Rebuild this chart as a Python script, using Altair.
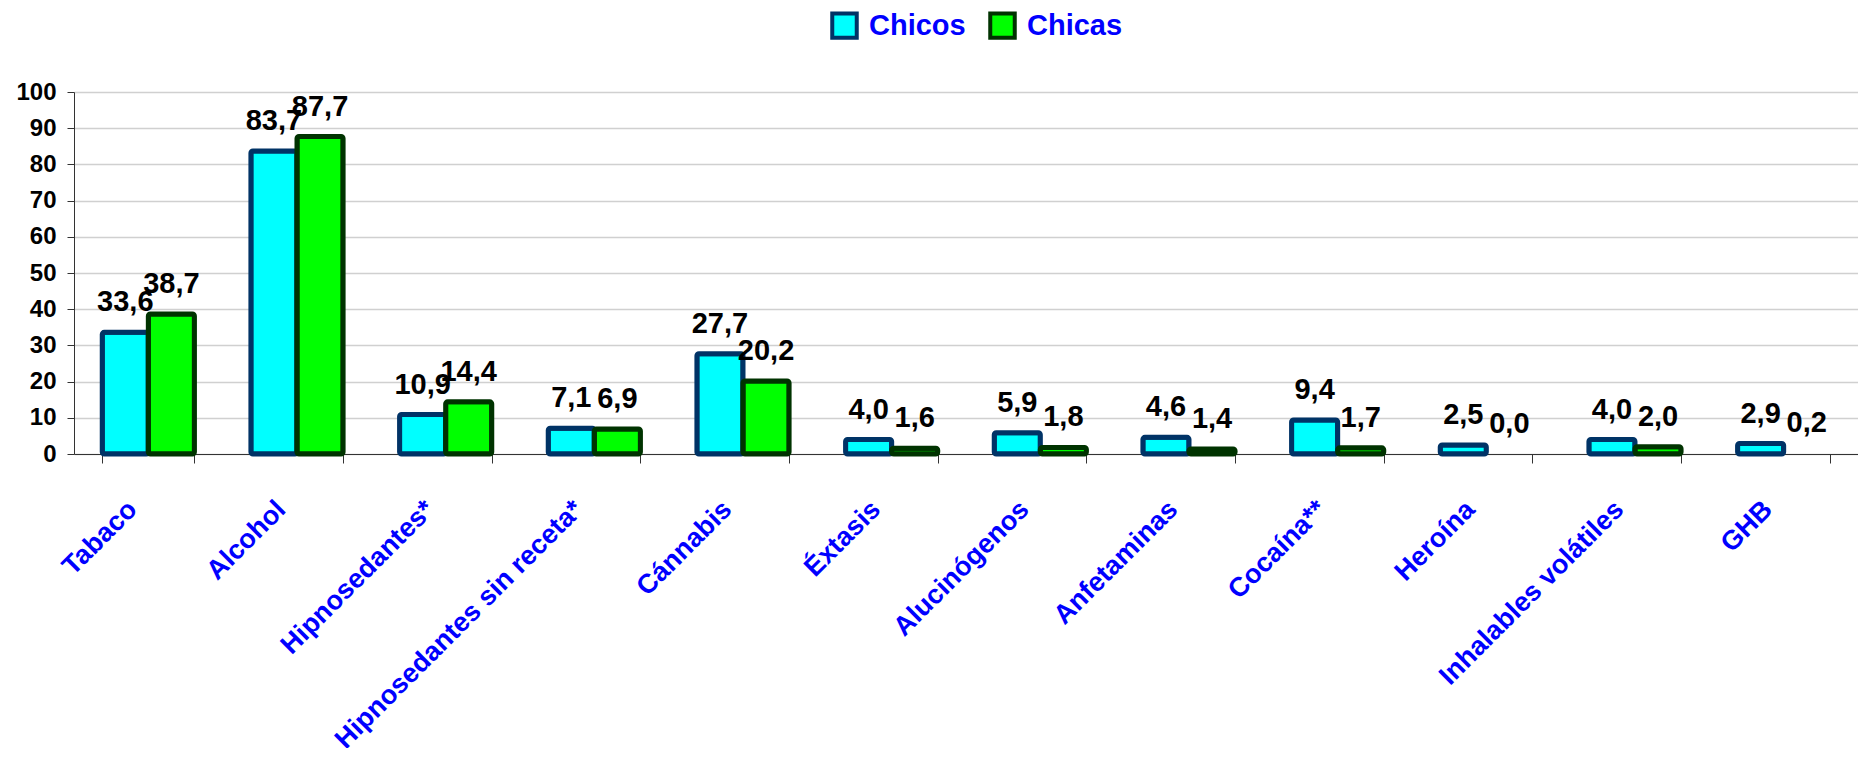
import altair as alt
import pandas as pd

categorias = ["Tabaco", "Alcohol", "Hipnosedantes*", "Hipnosedantes sin receta*",
              "Cánnabis", "Éxtasis", "Alucinógenos", "Anfetaminas", "Cocaína**",
              "Heroína", "Inhalables volátiles", "GHB"]
chicos = [33.6, 83.7, 10.9, 7.1, 27.7, 4.0, 5.9, 4.6, 9.4, 2.5, 4.0, 2.9]
chicas = [38.7, 87.7, 14.4, 6.9, 20.2, 1.6, 1.8, 1.4, 1.7, 0.0, 2.0, 0.2]
series = ["Chicos", "Chicas"]

rows = []
for i, c in enumerate(categorias):
    for s, vals in zip(series, [chicos, chicas]):
        v = vals[i]
        rows.append({"categoria": c, "sexo": s, "valor": v,
                     "etiqueta": f"{v:.1f}".replace(".", ",")})
df = pd.DataFrame(rows)

FONT = "Liberation Sans"

x = alt.X("categoria:N", sort=categorias, title=None,
          scale=alt.Scale(paddingInner=0.38, paddingOuter=0.19),
          axis=alt.Axis(labelAngle=-45, labelAlign="right", labelBaseline="middle",
                        labelFont=FONT, labelFontSize=27, labelFontWeight="bold",
                        labelColor="#0000FF", labelPadding=42, labelOffset=-16, tickBand="extent",
                        tickSize=9, tickColor="#333333", domainColor="#333333",
                        labelLimit=600, grid=False))
xoff = alt.XOffset("sexo:N", sort=series, scale=alt.Scale(domain=series, paddingInner=0, paddingOuter=0))
y = alt.Y("valor:Q", title=None,
          scale=alt.Scale(domain=[0, 100], nice=False),
          axis=alt.Axis(values=list(range(0, 101, 10)), labelFont=FONT, labelFontSize=24,
                        labelFontWeight="bold", labelColor="#000000", tickSize=7,
                        tickColor="#333333", domainColor="#333333", labelPadding=11,
                        grid=True, gridColor="#D0D0D0", gridWidth=1.5))

leg = alt.Legend(title=None, orient="none", legendX=756, legendY=-81, direction="horizontal",
                 labelFont=FONT, labelFontSize=29, labelFontWeight="bold", labelColor="#0000FF",
                 symbolType="square", symbolSize=600, symbolStrokeWidth=4, labelOffset=10,
                 columnPadding=16)

bars = alt.Chart(df).transform_filter(alt.datum.valor >= 0.5).mark_bar(strokeWidth=5, cornerRadius=2).encode(
    x=x, xOffset=xoff, y=y,
    fill=alt.Fill("sexo:N", sort=series, scale=alt.Scale(domain=series, range=["#00FFFF", "#00FF00"]), legend=leg),
    stroke=alt.Stroke("sexo:N", sort=series, scale=alt.Scale(domain=series, range=["#003366", "#003300"]), legend=leg),
)

texts = alt.Chart(df).mark_text(font=FONT, fontSize=29, fontWeight="bold", color="#000000",
                                baseline="alphabetic", dy=-21).encode(
    x=x, xOffset=xoff, y=y, text="etiqueta:N")

chart = alt.layer(bars, texts).properties(
    width=1784, height=362,
    autosize=alt.AutoSizeParams(type="none"),
    padding={"left": 66, "top": 84, "right": 0, "bottom": 294},
).configure_view(stroke=None)

chart.save("out.html", embed_options={"renderer": "svg", "actions": False})
